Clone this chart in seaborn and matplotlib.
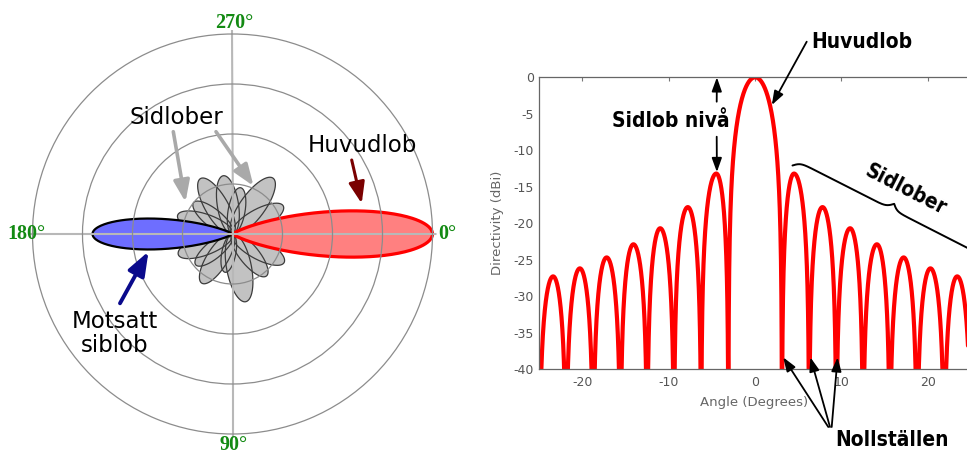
import numpy as np
import pandas as pd
import matplotlib
matplotlib.use("Agg")
import matplotlib.pyplot as plt
import seaborn as sns
from matplotlib import font_manager as fm
from matplotlib.lines import Line2D

# ---------------- data : polar radiation pattern (left) ----------------
main_lobe_dir, main_lobe_len, main_lobe_sigma = 0.0, 200.0, 11.0
back_lobe_dir, back_lobe_len, back_lobe_sigma = 180.0, 140.0, 10.5
side_dirs = [29, 51, 79, 101, 122, 140, 159, 199, 219, 240, 261, 280, 306, 331]
side_lens = [59, 54, 69, 39, 58, 48, 58, 58, 50, 64, 59, 47, 69, 58]
side_aspect = 0.36          # petal width / length
ring_radii = [50, 100, 150, 200]
compass_angles = [0, 90, 180, 270]
compass_labels = ["0°", "90°", "180°", "270°"]

# ---------------- data : directivity vs angle (right) ----------------
null_deg = [-25, -21.9, -18.75, -15.6, -12.5, -9.4, -6.25, -3.1,
            3.1, 6.25, 9.4, 12.5, 15.6, 18.75, 21.9, 25]
peak_deg = [-23.4, -20.3, -17.2, -14.1, -11.0, -7.8, -4.5, 0.0,
            4.5, 7.8, 11.0, 14.1, 17.2, 20.3, 23.4]
peak_db = [-27.3, -26.2, -24.7, -22.9, -20.7, -17.8, -13.2, 0.0,
           -13.2, -17.8, -20.7, -22.9, -24.7, -26.2, -27.3]
x_ticks = [-20, -10, 0, 10, 20]
y_ticks = [0, -5, -10, -15, -20, -25, -30, -35, -40]

# ---------------- styling ----------------
sns.set_style("white")
plt.rcParams["axes.unicode_minus"] = False
plt.rcParams["font.family"] = ["DejaVu Sans"]

names = {f.name for f in fm.fontManager.ttflist}
cond = [f for f in fm.fontManager.ttflist
        if f.name == "DejaVu Sans" and "condensed" in str(f.stretch)]
if "Liberation Sans Narrow" in names:
    NF = dict(family="Liberation Sans Narrow", fontweight="bold", fontsize=19)
elif cond:
    NF = dict(family="DejaVu Sans", fontstretch="condensed", fontweight="bold", fontsize=15)
else:
    NF = dict(family="Liberation Sans", fontweight="bold", fontsize=15)

W, H = 967, 455
fig = plt.figure(figsize=(W / 100, H / 100), dpi=100)


def fp(x, y):
    return (x / W, 1 - y / H)


# ================= LEFT: polar plot =================
cx, cy, rmax = 232.5, 234.0, 204.0
axp = fig.add_axes([(cx - rmax) / W, (H - cy - rmax) / H, 2 * rmax / W, 2 * rmax / H],
                   projection="polar")
axp.set_theta_zero_location("E")
axp.set_theta_direction(-1)
axp.set_rlim(0, rmax)
axp.set_rticks(ring_radii)
axp.set_yticklabels([])
axp.set_thetagrids(compass_angles, labels=[""] * 4)
axp.spines["polar"].set_visible(False)
axp.set_facecolor("none")
axp.set_axisbelow(False)
axp.xaxis.grid(True, color="#b8b8b8", lw=1.5)
axp.yaxis.grid(True, color="#8c8c8c", lw=0.9)


def lobe(direction, length, sigma):
    phi = np.linspace(-4.2 * sigma, 4.2 * sigma, 400)
    r = length * np.exp(-0.5 * (phi / sigma) ** 2)
    th = np.deg2rad(direction + phi)
    return np.r_[0, th, 0], np.r_[0, r, 0]


def petal(direction, length, aspect):
    # ellipse with one end at the origin, major axis along `direction`
    phi = np.linspace(-np.pi / 2 + 1e-3, np.pi / 2 - 1e-3, 500)
    a = length / 2
    b = a * aspect
    r = (2 * np.cos(phi) / a) / (np.cos(phi) ** 2 / a ** 2 + np.sin(phi) ** 2 / b ** 2)
    th = np.deg2rad(direction) + phi
    return np.r_[th, th[0]], np.r_[r, r[0]]


petals = [petal(d, L, side_aspect) for d, L in zip(side_dirs, side_lens)]
for th, r in petals:
    axp.fill(th, r, color="#c2c2c2", lw=0, zorder=1)
for th, r in petals:
    axp.plot(th, r, color="#3c3c3c", lw=0.9, zorder=1.2)

th, r = lobe(back_lobe_dir, back_lobe_len, back_lobe_sigma)
axp.fill(th, r, color="#6e6eff", lw=0, zorder=1.4)
axp.plot(th, r, color="black", lw=1.6, zorder=1.5)

th, r = lobe(main_lobe_dir, main_lobe_len, main_lobe_sigma)
axp.fill(th, r, color="#ff8080", lw=0, zorder=1.4)
axp.plot(th, r, color="#ff0000", lw=2.3, zorder=1.5)

lab_pos = {"0°": (447.5, 234), "90°": (234, 445), "180°": (26.5, 234), "270°": (234.5, 23)}
for lab in compass_labels:
    fig.text(*fp(*lab_pos[lab]), lab, ha="center", va="center", color="#138a13",
             family="Liberation Serif", fontweight="bold", fontsize=14.5)

TF = dict(family="DejaVu Sans", fontsize=16.5, color="black", ha="center", va="center")
fig.text(*fp(176, 117), "Sidlober", **TF)
fig.text(*fp(362, 145.5), "Huvudlob", **TF)
fig.text(*fp(114.5, 333.5), "Motsatt\nsiblob", multialignment="center",
         linespacing=1.0, **TF)


def farrow(start, tip, color, lw, ms, hl=0.8, hw=0.3):
    axp.annotate("", xy=fp(*tip), xytext=fp(*start), xycoords="figure fraction",
                 textcoords="figure fraction",
                 arrowprops=dict(arrowstyle=f"-|>,head_length={hl},head_width={hw}",
                                 color=color, lw=lw, mutation_scale=ms,
                                 shrinkA=0, shrinkB=0))


farrow((173.3, 131.7), (185.5, 202), "#a9a9a9", 2.6, 16)
farrow((216, 131.7), (253.5, 186), "#a9a9a9", 2.6, 16)
farrow((351.7, 160), (361.7, 203.5), "#7a0000", 2.2, 16)
farrow((120, 303.3), (148.5, 251.5), "#0a0a8c", 2.8, 18)

# ================= RIGHT: directivity =================
x0_px, x1_px, ytop_px, ybot_px = 539.3, 971.0, 77.3, 369.0
axr = fig.add_axes([x0_px / W, (H - ybot_px) / H, (x1_px - x0_px) / W, (ybot_px - ytop_px) / H])

xs, ys = [], []
for i in range(len(peak_deg)):
    a, b, p = null_deg[i], null_deg[i + 1], peak_deg[i]
    x = np.linspace(a, b, 400)
    u = np.where(x <= p, 0.5 * (x - a) / (p - a), 0.5 + 0.5 * (x - p) / (b - p))
    amp = 10 ** (peak_db[i] / 20) * np.sin(np.pi * u)
    xs.append(x)
    ys.append(20 * np.log10(np.maximum(amp, 1e-4)))
df = pd.DataFrame({"Angle": np.concatenate(xs), "dB": np.concatenate(ys)})

sns.lineplot(data=df, x="Angle", y="dB", ax=axr, color="#ff0000", lw=3.0,
             estimator=None, sort=False)
axr.set_xlim(-25, 25)
axr.set_ylim(-40, 0)
axr.set_xticks(x_ticks)
axr.set_yticks(y_ticks)
axr.tick_params(direction="in", length=3, color="#777777", labelcolor="#555555",
                labelsize=9, top=True, right=True)
axr.tick_params(axis="y", pad=4)
axr.tick_params(axis="x", pad=5)
for s in axr.spines.values():
    s.set_color("#666666")
    s.set_linewidth(0.9)
axr.set_xlabel("Angle (Degrees)", color="#666666", fontsize=9.5)
axr.set_ylabel("Directivity (dBi)", color="#666666", fontsize=9.5)
axr.xaxis.set_label_coords(0.497, -(396 - ybot_px) / (ybot_px - ytop_px))
axr.yaxis.set_label_coords((504 - x0_px) / (x1_px - x0_px), 0.5)

BF = dict(color="black", ha="center", va="center", **NF)
fig.text(*fp(862, 42), "Huvudlob", **BF)
fig.text(*fp(670.5, 121), "Sidlob nivå", **BF)
fig.text(*fp(906, 190), "Sidlober", rotation=-27, rotation_mode="anchor", **BF)
fig.text(*fp(892, 440), "Nollställen", **BF)


def darrow(start_px, tip_data, lw=1.3, ms=12):
    axr.annotate("", xy=tip_data, xycoords="data", xytext=fp(*start_px),
                 textcoords="figure fraction", annotation_clip=False,
                 arrowprops=dict(arrowstyle="-|>,head_length=0.7,head_width=0.25",
                                 color="black", lw=lw, mutation_scale=ms,
                                 shrinkA=0, shrinkB=0))


darrow((806.7, 41.7), (1.93, -3.8))
sl_x = peak_deg[6] + 0.07
darrow((716.7, 101.7), (sl_x, peak_db[7]))
darrow((716.7, 136.7), (sl_x, peak_db[6] + 0.2))
for k, sx in zip([8, 9, 10], [828.3, 830.0, 831.7]):
    darrow((sx, 427), (null_deg[k] + 0.15, -38.4))

# curly brace (annotation decoration)
Sx, Sy, ang, Lb, hb, beta = 792.5, 165.5, np.deg2rad(27), 216.0, 12.0, 70.0
t = np.linspace(0, 0.5, 300)
yh = 1 / (1 + np.exp(-beta * t)) + 1 / (1 + np.exp(-beta * (t - 0.5)))
yh = (yh - yh[0]) / (yh[-1] - yh[0])
tt = np.r_[t, 1 - t[::-1]]
yy = np.r_[yh, yh[::-1]]
d = np.array([np.cos(ang), np.sin(ang)])
n = np.array([np.sin(ang), -np.cos(ang)])
px = Sx + tt * Lb * d[0] + yy * hb * n[0]
py = Sy + tt * Lb * d[1] + yy * hb * n[1]
fig.add_artist(Line2D(px / W, 1 - py / H, color="black", lw=1.4, transform=fig.transFigure))

fig.savefig("out.png", dpi=100, facecolor="white")
